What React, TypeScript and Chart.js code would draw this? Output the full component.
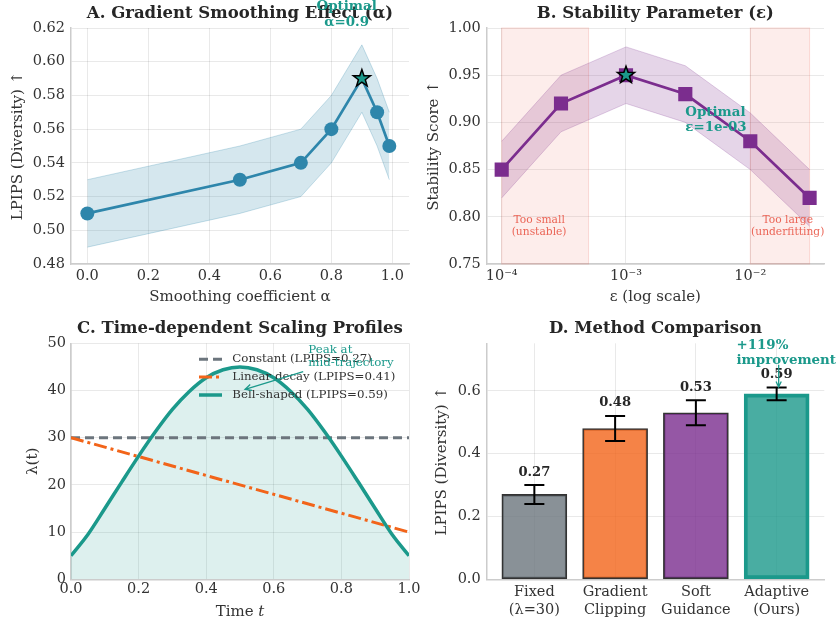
import React, { useEffect, useRef } from 'react';
import { Chart, registerables } from 'chart.js';

Chart.register(...registerables);

// ---------------- DATA ----------------
// Panel A: gradient smoothing
const alphaValues = [0, 0.5, 0.7, 0.8, 0.9, 0.95, 0.99];
const lpipsA = [0.51, 0.53, 0.54, 0.56, 0.59, 0.57, 0.55];
const lpipsALow = [0.49, 0.51, 0.52, 0.54, 0.57, 0.55, 0.53];
const lpipsAHigh = [0.53, 0.55, 0.56, 0.58, 0.61, 0.59, 0.57];
const alphaTicks = [0, 0.2, 0.4, 0.6, 0.8, 1.0];
const lpipsATicks = [0.48, 0.5, 0.52, 0.54, 0.56, 0.58, 0.6, 0.62];
const bestAlpha = 0.9;
const bestAlphaScore = 0.59;

// Panel B: stability parameter
const epsValues = [1e-4, 3e-4, 1e-3, 3e-3, 1e-2, 3e-2];
const stability = [0.85, 0.92, 0.95, 0.93, 0.88, 0.82];
const stabilityLow = [0.82, 0.89, 0.92, 0.9, 0.85, 0.79];
const stabilityHigh = [0.88, 0.95, 0.98, 0.96, 0.91, 0.85];
const epsTicks = [1e-4, 1e-3, 1e-2];
const epsTickLabels = ['10\u207B\u2074', '10\u207B\u00B3', '10\u207B\u00B2'];
const stabilityTicks = [0.75, 0.8, 0.85, 0.9, 0.95, 1.0];
const bestEps = 1e-3;
const bestEpsScore = 0.95;
const smallRegion = [1e-4, 5e-4];
const largeRegion = [1e-2, 3e-2];

// Panel C: scaling profiles
const timeSteps = [0, 0.05, 0.1, 0.15, 0.2, 0.25, 0.3, 0.35, 0.4, 0.45, 0.5, 0.55, 0.6, 0.65, 0.7, 0.75, 0.8, 0.85, 0.9, 0.95, 1.0];
const bellProfile = [5, 9.5, 15, 20.6, 26.1, 31.3, 36, 39.8, 42.7, 44.4, 45, 44.4, 42.7, 39.8, 36, 31.3, 26.1, 20.6, 15, 9.5, 5];
const lineTimes = [0, 1];
const constantProfile = [30, 30];
const linearProfile = [30, 10];
const timeTicks = [0, 0.2, 0.4, 0.6, 0.8, 1.0];
const lambdaTicks = [0, 10, 20, 30, 40, 50];

// Panel D: method comparison
const methods = [['Fixed', '(\u03BB=30)'], ['Gradient', 'Clipping'], ['Soft', 'Guidance'], ['Adaptive', '(Ours)']];
const methodScores = [0.27, 0.48, 0.53, 0.59];
const methodErrors = [0.03, 0.04, 0.04, 0.02];
const methodIndex = [0, 1, 2, 3];
const methodTicks = [0, 0.2, 0.4, 0.6];

// ---------------- STYLE ----------------
const W = 837;
const H = 621;
const FONT = "'DejaVu Serif', 'Liberation Serif', serif";
const TEXT = '#333333';
const TITLE = '#262626';
const GRID = 'rgba(0,0,0,0.085)';
const SPINE = '#cccccc';
const BLUE = '#2E86AB';
const PURPLE = '#7B2D8E';
const ORANGE = '#F26419';
const GRAY = '#6C757D';
const TEAL = '#1B998B';

const TICK_SIZE = 14.5;
const LABEL_SIZE = 15;
const TITLE_SIZE = 16.5;
const ANN_SIZE = 13.4;

const areaA = { l: 71, t: 28, r: 409, b: 264 };
const areaB = { l: 486.7, t: 28, r: 824, b: 264 };
const areaC = { l: 71, t: 343.3, r: 409, b: 579.3 };
const areaD = { l: 486.7, t: 343.3, r: 824.3, b: 579.3 };

const YW = 60;
const XH = 40;

function layoutFor(a: any) {
  return { padding: { left: a.l - YW, top: a.t, right: W - a.r, bottom: H - a.b - XH } };
}

function drawText(ctx: any, str: string, x: number, y: number, o: any = {}) {
  ctx.save();
  ctx.font = `${o.style || 'normal'} ${o.weight || 'normal'} ${o.size || LABEL_SIZE}px ${FONT}`;
  ctx.fillStyle = o.color || TEXT;
  ctx.textAlign = o.align || 'center';
  ctx.textBaseline = o.baseline || 'middle';
  if (o.rotate) {
    ctx.translate(x, y);
    ctx.rotate(o.rotate);
    ctx.fillText(str, 0, 0);
  } else {
    ctx.fillText(str, x, y);
  }
  ctx.restore();
}

function drawStar(ctx: any, x: number, y: number, R: number, fill: string) {
  ctx.save();
  ctx.beginPath();
  for (let k = 0; k < 10; k++) {
    const r = k % 2 === 0 ? R : R * 0.4;
    const a = -Math.PI / 2 + (k * Math.PI) / 5;
    const px = x + r * Math.cos(a);
    const py = y + r * Math.sin(a);
    if (k === 0) ctx.moveTo(px, py);
    else ctx.lineTo(px, py);
  }
  ctx.closePath();
  ctx.fillStyle = fill;
  ctx.fill();
  ctx.lineWidth = 1.5;
  ctx.strokeStyle = '#000';
  ctx.lineJoin = 'miter';
  ctx.stroke();
  ctx.restore();
}

function drawArrow(ctx: any, x1: number, y1: number, x2: number, y2: number, color: string, lw = 1.3, head = 7) {
  ctx.save();
  ctx.strokeStyle = color;
  ctx.lineWidth = lw;
  ctx.beginPath();
  ctx.moveTo(x1, y1);
  ctx.lineTo(x2, y2);
  const ang = Math.atan2(y2 - y1, x2 - x1);
  ctx.moveTo(x2 - head * Math.cos(ang - 0.45), y2 - head * Math.sin(ang - 0.45));
  ctx.lineTo(x2, y2);
  ctx.lineTo(x2 - head * Math.cos(ang + 0.45), y2 - head * Math.sin(ang + 0.45));
  ctx.stroke();
  ctx.restore();
}

function yAxis(type: string, min: number, max: number, ticks: number[], fmt: (v: number, i: number) => any, pad = 6) {
  return {
    type,
    min,
    max,
    afterBuildTicks: (s: any) => {
      s.ticks = ticks.map((v) => ({ value: v }));
    },
    afterFit: (s: any) => {
      s.width = YW;
    },
    ticks: {
      callback: (v: number, i: number) => fmt(v, i),
      font: { family: FONT, size: TICK_SIZE },
      color: TEXT,
      padding: pad,
      autoSkip: false,
    },
    grid: { color: GRID, drawTicks: false, lineWidth: 1 },
    border: { display: true, color: SPINE, width: 1.5 },
  };
}

function xAxis(type: string, min: number, max: number, ticks: number[], fmt: (v: number, i: number) => any, pad = 4, lineHeight = 1.2) {
  return {
    type,
    min,
    max,
    offset: false,
    afterBuildTicks: (s: any) => {
      s.ticks = ticks.map((v) => ({ value: v }));
    },
    afterFit: (s: any) => {
      s.height = XH;
    },
    ticks: {
      callback: (v: number, i: number) => fmt(v, i),
      font: { family: FONT, size: TICK_SIZE, lineHeight },
      color: TEXT,
      padding: pad,
      maxRotation: 0,
      minRotation: 0,
      autoSkip: false,
    },
    grid: { color: GRID, drawTicks: false, lineWidth: 1, offset: false },
    border: { display: true, color: SPINE, width: 1.5 },
  };
}

function framePlugin(title: string, titleY: number, yLabel: string, yLabelX: number, xLabel: string | null, xLabelY: number) {
  return {
    id: 'frame',
    afterDraw(chart: any) {
      const { ctx, chartArea: a } = chart;
      const cx = (a.left + a.right) / 2;
      const cy = (a.top + a.bottom) / 2;
      drawText(ctx, title, cx, titleY, { size: TITLE_SIZE, weight: 'bold', color: TITLE });
      drawText(ctx, yLabel, yLabelX, cy, { size: LABEL_SIZE, rotate: -Math.PI / 2 });
      if (xLabel) drawText(ctx, xLabel, cx, xLabelY, { size: LABEL_SIZE });
    },
  };
}

const baseOptions = (area: any) => ({
  responsive: false,
  animation: false as const,
  events: [],
  layout: layoutFor(area),
  plugins: {
    legend: { display: false },
    tooltip: { enabled: false },
    title: { display: false },
    filler: { drawTime: 'beforeDatasetsDraw' },
  },
});

// ---------------- PANEL CONFIGS ----------------
function configA(): any {
  return {
    type: 'line',
    data: {
      datasets: [
        {
          label: 'LPIPS',
          data: alphaValues.map((x, i) => ({ x, y: lpipsA[i] })),
          borderColor: BLUE,
          borderWidth: 2.7,
          pointRadius: (c: any) => (alphaValues[c.dataIndex] === bestAlpha ? 0 : 7),
          pointBackgroundColor: BLUE,
          pointBorderWidth: 0,
          fill: false,
        },
        {
          label: 'low',
          data: alphaValues.map((x, i) => ({ x, y: lpipsALow[i] })),
          borderColor: 'rgba(46,134,171,0.25)',
          borderWidth: 1,
          pointRadius: 0,
          fill: false,
        },
        {
          label: 'high',
          data: alphaValues.map((x, i) => ({ x, y: lpipsAHigh[i] })),
          borderColor: 'rgba(46,134,171,0.25)',
          borderWidth: 1,
          pointRadius: 0,
          fill: '-1',
          backgroundColor: 'rgba(46,134,171,0.2)',
        },
      ],
    },
    options: {
      ...baseOptions(areaA),
      scales: {
        x: xAxis('linear', -0.0535, 1.0545, alphaTicks, (v) => v.toFixed(1), 4),
        y: yAxis('linear', 0.48, 0.62, lpipsATicks, (v) => v.toFixed(2), 6),
      },
    },
    plugins: [
      framePlugin('A. Gradient Smoothing Effect (\u03B1)', 13.5, 'LPIPS (Diversity) \u2191', 18.3, 'Smoothing coefficient \u03B1', 296.7),
      {
        id: 'annA',
        afterDraw(chart: any) {
          const { ctx, scales } = chart;
          const x = scales.x.getPixelForValue(bestAlpha);
          const y = scales.y.getPixelForValue(bestAlphaScore);
          drawStar(ctx, x, y, 9, TEAL);
          const tx = scales.x.getPixelForValue(0.85);
          drawText(ctx, 'Optimal', tx, scales.y.getPixelForValue(0.6325), { size: ANN_SIZE, weight: 'bold', color: TEAL });
          drawText(ctx, '\u03B1=0.9', tx, scales.y.getPixelForValue(0.623), { size: ANN_SIZE, weight: 'bold', color: TEAL });
        },
      },
    ],
  };
}

function configB(): any {
  return {
    type: 'line',
    data: {
      datasets: [
        {
          label: 'Stability',
          data: epsValues.map((x, i) => ({ x, y: stability[i] })),
          borderColor: PURPLE,
          borderWidth: 2.7,
          pointStyle: 'rect',
          pointRadius: 10,
          pointBackgroundColor: PURPLE,
          pointBorderWidth: 0,
          fill: false,
        },
        {
          label: 'low',
          data: epsValues.map((x, i) => ({ x, y: stabilityLow[i] })),
          borderColor: 'rgba(123,45,142,0.22)',
          borderWidth: 1,
          pointRadius: 0,
          fill: false,
        },
        {
          label: 'high',
          data: epsValues.map((x, i) => ({ x, y: stabilityHigh[i] })),
          borderColor: 'rgba(123,45,142,0.22)',
          borderWidth: 1,
          pointRadius: 0,
          fill: '-1',
          backgroundColor: 'rgba(123,45,142,0.2)',
        },
      ],
    },
    options: {
      ...baseOptions(areaB),
      scales: {
        x: xAxis('logarithmic', Math.pow(10, -4.1207), Math.pow(10, -1.407), epsTicks, (v, i) => epsTickLabels[i], 4),
        y: yAxis('linear', 0.75, 1.0, stabilityTicks, (v) => v.toFixed(2), 6),
      },
    },
    plugins: [
      {
        id: 'regions',
        beforeDatasetsDraw(chart: any) {
          const { ctx, scales, chartArea: a } = chart;
          ctx.save();
          [smallRegion, largeRegion].forEach((r) => {
            const x1 = scales.x.getPixelForValue(r[0]);
            const x2 = scales.x.getPixelForValue(r[1]);
            ctx.fillStyle = 'rgba(231,76,60,0.1)';
            ctx.fillRect(x1, a.top, x2 - x1, a.bottom - a.top);
            ctx.strokeStyle = 'rgba(231,76,60,0.18)';
            ctx.lineWidth = 1;
            ctx.strokeRect(x1, a.top, x2 - x1, a.bottom - a.top);
          });
          ctx.restore();
        },
      },
      framePlugin('B. Stability Parameter (\u03B5)', 13.5, 'Stability Score \u2191', 434, '\u03B5 (log scale)', 296.7),
      {
        id: 'annB',
        afterDraw(chart: any) {
          const { ctx, scales } = chart;
          drawStar(ctx, scales.x.getPixelForValue(bestEps), scales.y.getPixelForValue(bestEpsScore), 9, TEAL);
          const lx = scales.x.getPixelForValue(3e-3);
          drawText(ctx, 'Optimal', lx, scales.y.getPixelForValue(0.911), { size: ANN_SIZE, weight: 'bold', color: TEAL, align: 'left' });
          drawText(ctx, '\u03B5=1e-03', lx, scales.y.getPixelForValue(0.895), { size: ANN_SIZE, weight: 'bold', color: TEAL, align: 'left' });
          const c = 'rgba(231,76,60,0.85)';
          const sx = scales.x.getPixelForValue(2e-4);
          drawText(ctx, 'Too small', sx, scales.y.getPixelForValue(0.796), { size: 10.7, color: c });
          drawText(ctx, '(unstable)', sx, scales.y.getPixelForValue(0.7835), { size: 10.7, color: c });
          const bx = scales.x.getPixelForValue(2e-2);
          drawText(ctx, 'Too large', bx, scales.y.getPixelForValue(0.796), { size: 10.7, color: c });
          drawText(ctx, '(underfitting)', bx, scales.y.getPixelForValue(0.7835), { size: 10.7, color: c });
        },
      },
    ],
  };
}

function configC(): any {
  return {
    type: 'line',
    data: {
      datasets: [
        {
          label: 'Constant (LPIPS=0.27)',
          data: lineTimes.map((x, i) => ({ x, y: constantProfile[i] })),
          borderColor: GRAY,
          borderWidth: 3,
          borderDash: [9, 5],
          pointRadius: 0,
          fill: false,
          order: 3,
        },
        {
          label: 'Linear decay (LPIPS=0.41)',
          data: lineTimes.map((x, i) => ({ x, y: linearProfile[i] })),
          borderColor: ORANGE,
          borderWidth: 3,
          borderDash: [13, 4, 3, 4],
          pointRadius: 0,
          fill: false,
          order: 2,
        },
        {
          label: 'Bell-shaped (LPIPS=0.59)',
          data: timeSteps.map((x, i) => ({ x, y: bellProfile[i] })),
          borderColor: TEAL,
          borderWidth: 3.5,
          pointRadius: 0,
          cubicInterpolationMode: 'monotone',
          fill: 'origin',
          backgroundColor: 'rgba(27,153,139,0.15)',
          order: 1,
        },
      ],
    },
    options: {
      ...baseOptions(areaC),
      scales: {
        x: xAxis('linear', 0, 1, timeTicks, (v) => v.toFixed(1), 1),
        y: yAxis('linear', 0, 50, lambdaTicks, (v) => String(v), 5),
      },
    },
    plugins: [
      framePlugin('C. Time-dependent Scaling Profiles', 328.3, '\u03BB(t)', 33, null, 0),
      {
        id: 'annC',
        afterDraw(chart: any) {
          const { ctx, scales, chartArea: a } = chart;
          // x label with italic t
          ctx.save();
          const cx = (a.left + a.right) / 2;
          ctx.font = `normal normal ${LABEL_SIZE}px ${FONT}`;
          const w1 = ctx.measureText('Time ').width;
          ctx.font = `italic normal ${LABEL_SIZE}px ${FONT}`;
          const w2 = ctx.measureText('t').width;
          ctx.restore();
          const sx = cx - (w1 + w2) / 2;
          drawText(ctx, 'Time ', sx, 612, { align: 'left' });
          drawText(ctx, 't', sx + w1, 612, { align: 'left', style: 'italic' });
          // legend
          const rows = [359.3, 377, 395];
          chart.data.datasets.forEach((ds: any, i: number) => {
            const y = rows[i];
            ctx.save();
            ctx.strokeStyle = ds.borderColor;
            ctx.lineWidth = ds.borderWidth;
            ctx.setLineDash(ds.borderDash || []);
            ctx.beginPath();
            ctx.moveTo(199, y);
            ctx.lineTo(222, y);
            ctx.stroke();
            ctx.restore();
            drawText(ctx, ds.label, 232.3, y, { size: 11.8, align: 'left', color: TEXT });
          });
          // peak annotation
          const tx = scales.x.getPixelForValue(0.702);
          drawText(ctx, 'Peak at', tx, scales.y.getPixelForValue(48.7), { size: 11.8, align: 'left', color: TEAL });
          drawText(ctx, 'mid-trajectory', tx, scales.y.getPixelForValue(45.9), { size: 11.8, align: 'left', color: TEAL });
          drawArrow(
            ctx,
            scales.x.getPixelForValue(0.687),
            scales.y.getPixelForValue(44.0),
            scales.x.getPixelForValue(0.515),
            scales.y.getPixelForValue(40.25),
            TEAL,
            1.3,
            7
          );
        },
      },
    ],
  };
}

function configD(): any {
  const fills = ['rgba(108,117,125,0.8)', 'rgba(242,100,25,0.8)', 'rgba(123,45,142,0.8)', 'rgba(27,153,139,0.8)'];
  const edges = ['#333333', '#333333', '#333333', TEAL];
  const edgeW = [1.6, 1.6, 1.6, 3.2];
  return {
    type: 'bar',
    data: {
      datasets: [
        {
          label: 'LPIPS',
          data: methodIndex.map((x, i) => ({ x, y: methodScores[i] })),
          backgroundColor: fills,
          borderColor: edges,
          borderWidth: edgeW,
          borderSkipped: false,
          barThickness: 65,
        },
      ],
    },
    options: {
      ...baseOptions(areaD),
      scales: {
        x: xAxis('linear', -0.59, 3.59, methodIndex, (v, i) => methods[i], 4.7, 1.2),
        y: yAxis('linear', 0, 0.751, methodTicks, (v) => v.toFixed(1), 6),
      },
    },
    plugins: [
      framePlugin('D. Method Comparison', 328.3, 'LPIPS (Diversity) \u2191', 442.5, null, 0),
      {
        id: 'errD',
        afterDatasetsDraw(chart: any) {
          const { ctx, scales } = chart;
          methodIndex.forEach((m, i) => {
            const x = scales.x.getPixelForValue(m);
            const yt = scales.y.getPixelForValue(methodScores[i] + methodErrors[i]);
            const yb = scales.y.getPixelForValue(methodScores[i] - methodErrors[i]);
            ctx.save();
            ctx.strokeStyle = '#000';
            ctx.lineWidth = 2;
            ctx.beginPath();
            ctx.moveTo(x, yt);
            ctx.lineTo(x, yb);
            ctx.moveTo(x - 10, yt);
            ctx.lineTo(x + 10, yt);
            ctx.moveTo(x - 10, yb);
            ctx.lineTo(x + 10, yb);
            ctx.stroke();
            ctx.restore();
            drawText(ctx, methodScores[i].toFixed(2), x, scales.y.getPixelForValue(methodScores[i] + methodErrors[i] + 0.03), {
              size: 13.1,
              weight: 'bold',
              baseline: 'alphabetic',
              color: TITLE,
            });
          });
        },
        afterDraw(chart: any) {
          const { ctx, scales } = chart;
          const lx = scales.x.getPixelForValue(2.503);
          drawText(ctx, '+119%', lx, scales.y.getPixelForValue(0.7435), { size: ANN_SIZE, weight: 'bold', color: TEAL, align: 'left' });
          drawText(ctx, 'improvement', lx, scales.y.getPixelForValue(0.6948), { size: ANN_SIZE, weight: 'bold', color: TEAL, align: 'left' });
          const ax = scales.x.getPixelForValue(3.025);
          drawArrow(ctx, ax, scales.y.getPixelForValue(0.683), ax, scales.y.getPixelForValue(0.612), TEAL, 1.3, 6);
        },
      },
    ],
  };
}

function Panel({ make }: { make: () => any }) {
  const ref = useRef<HTMLCanvasElement | null>(null);
  useEffect(() => {
    if (!ref.current) return;
    const chart = new Chart(ref.current, make());
    return () => chart.destroy();
  }, [make]);
  return <canvas ref={ref} width={W} height={H} style={{ position: 'absolute', left: 0, top: 0, width: W, height: H }} />;
}

export default function App() {
  return (
    <div style={{ position: 'fixed', left: 0, top: 0, width: W, height: H, background: '#ffffff', overflow: 'hidden' }}>
      <Panel make={configA} />
      <Panel make={configB} />
      <Panel make={configC} />
      <Panel make={configD} />
    </div>
  );
}
